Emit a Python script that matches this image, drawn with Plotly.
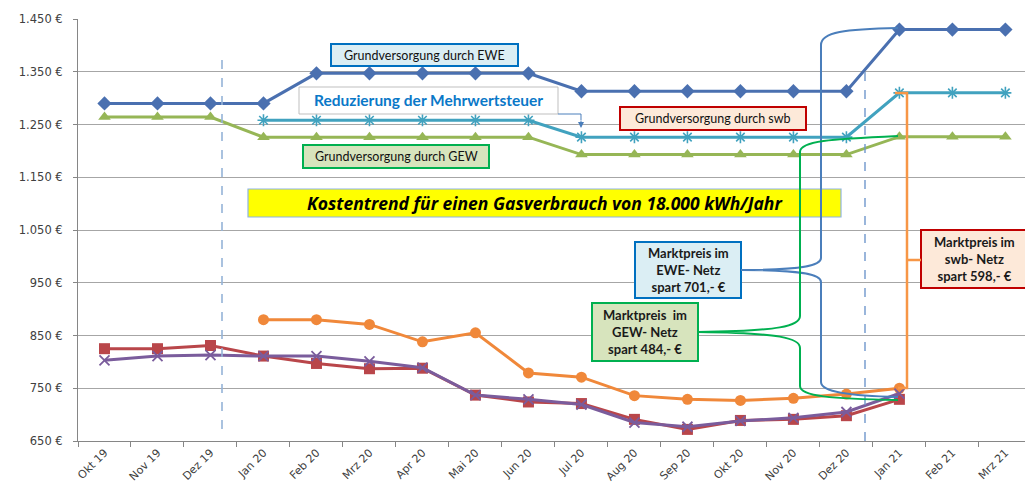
import plotly.graph_objects as go

# ---------------- data ----------------
months = ["Okt 19", "Nov 19", "Dez 19", "Jan 20", "Feb 20", "Mrz 20", "Apr 20", "Mai 20", "Jun 20",
          "Jul 20", "Aug 20", "Sep 20", "Okt 20", "Nov 20", "Dez 20", "Jan 21", "Feb 21", "Mrz 21"]

grund_ewe = [1290, 1290, 1290, 1290, 1347, 1347, 1347, 1347, 1347, 1313, 1313, 1313, 1313, 1313, 1313, 1430, 1430, 1430]
grund_swb = [None, None, None, 1258, 1258, 1258, 1258, 1258, 1258, 1226, 1226, 1226, 1226, 1226, 1226, 1310, 1310, 1310]
grund_gew = [1264, 1264, 1264, 1226, 1226, 1226, 1226, 1226, 1226, 1193, 1193, 1193, 1193, 1193, 1193, 1227, 1227, 1227]
markt_swb = [None, None, None, 880, 880, 871, 838, 855, 779, 771, 736, 729, 727, 731, 739, 750, None, None]
markt_gew = [825, 825, 831, 811, 797, 787, 788, 737, 724, 721, 691, 672, 689, 691, 698, 729, None, None]
markt_ewe = [803, 811, 813, 811, 811, 801, 789, 737, 729, 719, 685, 677, 688, 694, 705, 740, None, None]

y_ticks = [650, 750, 850, 950, 1050, 1150, 1250, 1350, 1450]
y_ticktext = ["650 €", "750 €", "850 €", "950 €", "1.050 €", "1.150 €", "1.250 €", "1.350 €", "1.450 €"]

# ---------------- layout geometry (pixels) ----------------
W, H = 1025, 485
L, R, T, B = 78, 1025, 19, 441


def px(x):
    return (x - L) / (R - L)


def py(y):
    return (B - y) / (B - T)


def path(cmds):
    out = []
    for c in cmds:
        if isinstance(c, str):
            out.append(c)
        else:
            out.append(f"{px(c[0]):.5f},{py(c[1]):.5f}")
    return " ".join(out)


fig = go.Figure()

series = [
    (markt_swb, "#f0883a", "circle", 11, 0),
    (markt_gew, "#b9464a", "square", 11, 0),
    (markt_ewe, "#7a5c9c", "x-thin-open", 10, 1.8),
    (grund_gew, "#96b656", "triangle-up", 11, 0),
    (grund_swb, "#41a2bf", "asterisk-open", 10, 1.6),
    (grund_ewe, "#4a70b0", "diamond", 11, 0),
]
for vals, col, sym, sz, lw in series:
    fig.add_trace(go.Scatter(
        x=months, y=vals, mode="lines+markers",
        line=dict(color=col, width=3),
        marker=dict(symbol=sym, size=sz, color=col, line=dict(color=col, width=lw)),
        connectgaps=False, showlegend=False, hoverinfo="x+y",
    ))

shapes = []
# vertical dashed lines
shapes.append(dict(type="line", xref="paper", yref="paper", x0=px(222), x1=px(222), y0=py(60), y1=py(432),
                   line=dict(color="#95b3d7", width=1.6, dash="dash")))
shapes.append(dict(type="line", xref="paper", yref="paper", x0=px(865), x1=px(865), y0=py(72), y1=py(441),
                   line=dict(color="#6f97cc", width=1.4, dash="dash")))


def box(x0, y0, x1, y1, fill, border, w=2):
    shapes.append(dict(type="rect", xref="paper", yref="paper", x0=px(x0), x1=px(x1), y0=py(y1), y1=py(y0),
                       fillcolor=fill, line=dict(color=border, width=w), layer="above"))


box(331, 44, 518, 66, "#dbeef4", "#0070c0")
box(299, 87, 558, 114, "#ffffff", "#bfbfbf", 1)
box(303, 145, 489, 168, "#d7e4bd", "#00b050")
box(620, 107, 806, 130, "#fde9d9", "#c00000")
box(248, 189, 841, 217, "#ffff00", "#8eb4e3", 1.2)
box(635, 242, 741, 298, "#dbeef4", "#0070c0")
box(592, 303, 698, 361, "#d7e4bd", "#00b050")
box(921, 230, 1040, 288, "#fde9d9", "#c00000")

# brackets
shapes.append(dict(type="path", xref="paper", yref="paper", layer="above",
                   path=path(["M", (898, 28), "C", (845, 29), (821, 32), (821, 45), "L", (821, 258),
                              "C", (821, 266), (800, 270), (741, 270), "C", (800, 270), (821, 274), (821, 282),
                              "L", (821, 382), "C", (821, 392), (850, 396), (898, 397)]),
                   line=dict(color="#4a7ebb", width=2)))
shapes.append(dict(type="path", xref="paper", yref="paper", layer="above",
                   path=path(["M", (898, 136), "C", (830, 139), (800, 141), (800, 152), "L", (800, 316),
                              "C", (800, 326), (780, 331), (698, 332), "C", (780, 333), (800, 338), (800, 348),
                              "L", (800, 386), "C", (800, 396), (830, 399), (898, 400)]),
                   line=dict(color="#00b050", width=2)))
shapes.append(dict(type="path", xref="paper", yref="paper", layer="above",
                   path=path(["M", (895, 93), "L", (907, 93), "L", (907, 388), "L", (898, 388),
                              "M", (907, 260), "L", (921, 260)]),
                   line=dict(color="#f79646", width=2.5)))
shapes.append(dict(type="path", xref="paper", yref="paper", layer="above",
                   path=path(["M", (558, 114), "L", (581, 114), "L", (581, 120)]),
                   line=dict(color="#4a7ebb", width=1)))

annos = []


def txt(x, y, s, size, color="#1a1a1a", bold=False, italic=False, family="Lato"):
    if bold:
        s = f"<b>{s}</b>"
    if italic:
        s = f"<i>{s}</i>"
    annos.append(dict(xref="paper", yref="paper", x=px(x), y=py(y), text=s, showarrow=False,
                      xanchor="center", yanchor="middle", align="center",
                      font=dict(family=family, size=size, color=color)))


txt(424.5, 55, "Grundversorgung durch EWE", 12.5, color="#111111")
txt(428.5, 100.5, "Reduzierung der Mehrwertsteuer", 15.5, color="#0a78c8", bold=True)
txt(396, 156.5, "Grundversorgung durch GEW", 12.5, color="#111111")
txt(713, 118.5, "Grundversorgung durch swb", 12.5, color="#111111")
txt(544.5, 203, "Kostentrend für einen Gasverbrauch von 18.000 kWh/Jahr", 17.5, color="#000000",
    bold=True, italic=True, family="Open Sans")
txt(688, 270, "Marktpreis im<br>EWE- Netz<br>spart 701,- €", 13, bold=True)
txt(645, 332, "Marktpreis  im<br>GEW- Netz<br>spart 484,- €", 13, bold=True)
txt(974, 259, "Marktpreis im<br>swb- Netz<br>spart 598,- €", 13, bold=True)

# small arrow from the VAT box to the July point
annos.append(dict(xref="paper", yref="paper", x=px(581), y=py(128), ax=0, ay=-9, axref="pixel", ayref="pixel",
                  text="", showarrow=True, arrowhead=2, arrowsize=1.2, arrowwidth=1, arrowcolor="#4a7ebb"))

fig.update_layout(
    width=W, height=H,
    margin=dict(l=L, r=W - R, t=T, b=H - B),
    paper_bgcolor="white", plot_bgcolor="white",
    shapes=shapes, annotations=annos,
    showlegend=False,
    font=dict(family="DejaVu Sans", size=11.5, color="#404040"),
    xaxis=dict(type="category", categoryorder="array", categoryarray=months,
               range=[-0.5, 17.37], tickson="boundaries", ticks="outside", ticklen=5,
               tickcolor="#868686", tickangle=-45, showline=True, linecolor="#868686", linewidth=1,
               showgrid=False, automargin=False,
               tickfont=dict(family="DejaVu Sans", size=11, color="#404040")),
    yaxis=dict(range=[650, 1450], tickvals=y_ticks, ticktext=y_ticktext, ticks="outside", ticklen=4,
               tickcolor="#868686", showline=True, linecolor="#868686", linewidth=1,
               showgrid=True, gridcolor="#a6a6a6", gridwidth=1, zeroline=False, automargin=False,
               ticklabelstandoff=8, tickfont=dict(family="DejaVu Sans", size=11.5, color="#404040")),
)

fig.write_html("out.html", config={"displayModeBar": False},
               post_script="document.body.style.margin='0';")
